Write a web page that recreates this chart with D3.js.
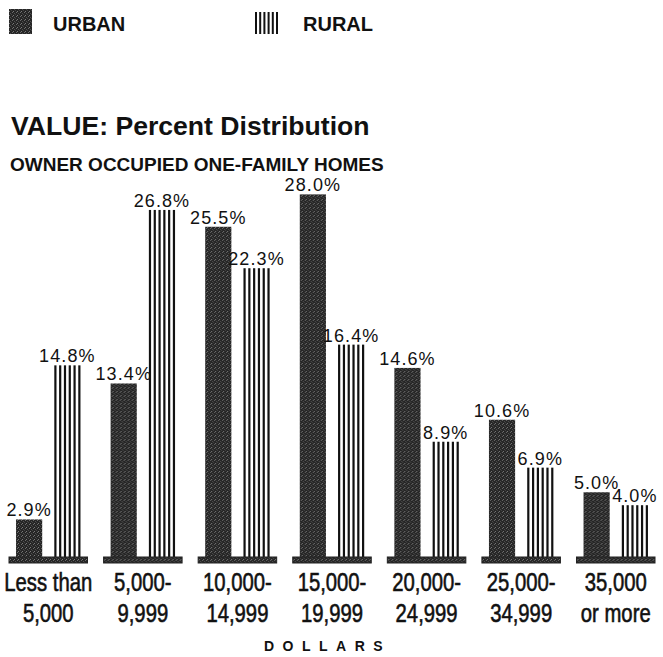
<!DOCTYPE html>
<html>
<head>
<meta charset="utf-8">
<script src="https://cdn.jsdelivr.net/npm/d3@7"></script>
<style>
  html, body { margin: 0; padding: 0; background: #fff; }
  svg { display: block; }
</style>
</head>
<body>
<script>
// data
const categoryTop = ['Less than', '5,000-', '10,000-', '15,000-', '20,000-', '25,000-', '35,000'];
const categoryBottom = ['5,000', '9,999', '14,999', '19,999', '24,999', '34,999', 'or more'];
const seriesNames = ['URBAN', 'RURAL'];
const urbanValues = [2.9, 13.4, 25.5, 28.0, 14.6, 10.6, 5.0];
const ruralValues = [14.8, 26.8, 22.3, 16.4, 8.9, 6.9, 4.0];

const width = 663;
const height = 657;
const baseY = 557;
const pxPerPct = 12.95;

const rows = categoryTop.map((c, i) => ({
  key: c + ' ' + categoryBottom[i],
  top: c,
  bottom: categoryBottom[i],
  URBAN: urbanValues[i],
  RURAL: ruralValues[i]
}));

const svg = d3.select('body').append('svg')
  .attr('width', width)
  .attr('height', height)
  .attr('viewBox', `0 0 ${width} ${height}`);

//MARK: textures
const defs = svg.append('defs');
const stipple = defs.append('pattern')
  .attr('id', 'stipple')
  .attr('patternUnits', 'userSpaceOnUse')
  .attr('width', 4).attr('height', 4);
stipple.append('rect').attr('width', 4).attr('height', 4).attr('fill', '#262626');
[[0, 0, '#6a6a6a'], [2, 1, '#505050'], [1, 3, '#7a7a7a'], [3, 2, '#454545']]
  .forEach(d => stipple.append('rect')
    .attr('x', d[0]).attr('y', d[1]).attr('width', 1).attr('height', 1).attr('fill', d[2]));

//MARK: scales
const x = d3.scaleBand()
  .domain(rows.map(d => d.key))
  .range([9, 655])
  .paddingInner(0.17)
  .paddingOuter(0);

const xs = d3.scaleBand()
  .domain(seriesNames)
  .range([0, x.bandwidth()])
  .paddingInner(0.316)
  .paddingOuter(0.184);

const y = d3.scaleLinear()
  .domain([0, 30])
  .range([baseY, baseY - 30 * pxPerPct]);

//MARK: legend
const legend = svg.append('g').attr('class', 'legend');
legend.append('rect')
  .attr('x', 9).attr('y', 9).attr('width', 23).attr('height', 25)
  .attr('fill', 'url(#stipple)');
legend.append('text')
  .attr('x', 53).attr('y', 31)
  .attr('font-family', '"Liberation Sans", Arial, sans-serif')
  .attr('font-weight', 'bold').attr('font-size', 20)
  .attr('fill', '#111')
  .text(seriesNames[0]);
legend.selectAll('rect.icon')
  .data(d3.range(6))
  .join('rect')
  .attr('class', 'icon')
  .attr('x', i => 255 + i * 4.2)
  .attr('y', 12).attr('width', 2).attr('height', 22)
  .attr('fill', '#111');
legend.append('text')
  .attr('x', 303).attr('y', 31)
  .attr('font-family', '"Liberation Sans", Arial, sans-serif')
  .attr('font-weight', 'bold').attr('font-size', 20)
  .attr('fill', '#111')
  .text(seriesNames[1]);

//MARK: titles
svg.append('text')
  .attr('x', 11).attr('y', 135)
  .attr('font-family', '"Liberation Sans", Arial, sans-serif')
  .attr('font-weight', 'bold').attr('font-size', 26.6)
  .attr('fill', '#111')
  .text('VALUE: Percent Distribution');
svg.append('text')
  .attr('x', 10).attr('y', 171)
  .attr('font-family', '"Liberation Sans", Arial, sans-serif')
  .attr('font-weight', 'bold').attr('font-size', 19)
  .attr('fill', '#111')
  .text('OWNER OCCUPIED ONE-FAMILY HOMES');

//MARK: bars
const groups = svg.append('g').attr('class', 'groups')
  .selectAll('g')
  .data(rows)
  .join('g')
  .attr('transform', d => `translate(${x(d.key)},0)`);

// urban: stippled solid bar
groups.append('rect')
  .attr('x', xs('URBAN'))
  .attr('y', d => y(d.URBAN))
  .attr('width', xs.bandwidth())
  .attr('height', d => baseY - y(d.URBAN))
  .attr('fill', 'url(#stipple)');

// rural: vertical rules
const ruralBars = groups.append('g')
  .attr('transform', `translate(${xs('RURAL')},0)`);
ruralBars.selectAll('rect')
  .data(d => d3.range(6).map(i => ({ i, v: d.RURAL })))
  .join('rect')
  .attr('x', d => d.i * (xs.bandwidth() - 2.2) / 5)
  .attr('y', d => y(d.v))
  .attr('width', 2.2)
  .attr('height', d => baseY - y(d.v))
  .attr('fill', '#111');

// base strip under each pair
groups.append('rect')
  .attr('x', 0).attr('y', baseY)
  .attr('width', x.bandwidth()).attr('height', 6)
  .attr('fill', 'url(#stipple)')
  .attr('stroke', '#222').attr('stroke-width', 1);

//MARK: value labels
const labelFont = '"Liberation Sans", Arial, sans-serif';
seriesNames.forEach(s => {
  groups.append('text')
    .attr('x', xs(s) + xs.bandwidth() / 2)
    .attr('y', d => y(d[s]) - 3)
    .attr('text-anchor', 'middle')
    .attr('font-family', labelFont)
    .attr('font-size', 18)
    .attr('letter-spacing', 1.1)
    .attr('fill', '#111')
    .text(d => d3.format('.1f')(d[s]) + '%');
});

//MARK: category labels (condensed)
const catFont = '"Liberation Sans", Arial, sans-serif';
groups.append('text')
  .attr('transform', `translate(${x.bandwidth() / 2},591) scale(0.78,1)`)
  .attr('text-anchor', 'middle')
  .attr('font-family', catFont).attr('font-size', 26)
  .attr('fill', '#111').attr('stroke', '#111').attr('stroke-width', 0.6)
  .text(d => d.top);
groups.append('text')
  .attr('transform', `translate(${x.bandwidth() / 2},622) scale(0.78,1)`)
  .attr('text-anchor', 'middle')
  .attr('font-family', catFont).attr('font-size', 26)
  .attr('fill', '#111').attr('stroke', '#111').attr('stroke-width', 0.6)
  .text(d => d.bottom);

svg.append('text')
  .attr('x', 264).attr('y', 651)
  .attr('font-family', '"Liberation Sans", Arial, sans-serif')
  .attr('font-weight', 'bold').attr('font-size', 14)
  .attr('letter-spacing', 8.5)
  .attr('fill', '#111')
  .text('DOLLARS');
</script>
</body>
</html>
